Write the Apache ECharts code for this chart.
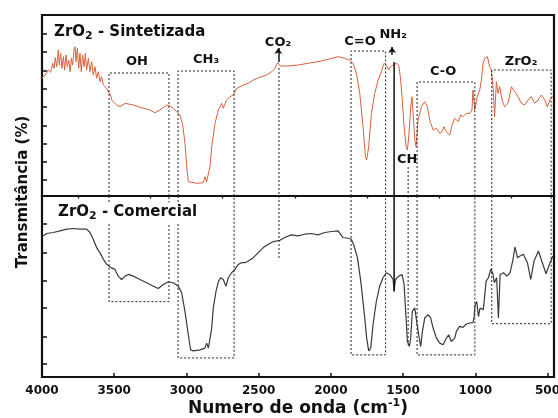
<!DOCTYPE html>
<html>
<head>
<meta charset="utf-8">
<script src="https://cdn.jsdelivr.net/npm/echarts@6/dist/echarts.min.js"></script>
<style>
  html, body { margin: 0; padding: 0; background: #fff; }
  #chart { width: 558px; height: 418px; }
</style>
</head>
<body>
<div id="chart"></div>
<script>
// FTIR spectra: [wavenumber (cm-1), transmittance (a.u.)]
const sintetizada = [
  [4002,117.7],[3979,121],[3956,126],[3940,123.7],[3926,132.7],[3917,127.7],[3908,138.3],[3898,129.3],
  [3887,146],[3880,131],[3871,142.7],[3862,127.7],[3852,139.3],[3843,126],[3834,141],[3825,129.3],
  [3815,136],[3806,124.3],[3797,137.7],[3788,131],[3778,146],[3771,149.3],[3765,134.3],[3755,147.7],
  [3746,127.7],[3737,142.7],[3728,124.3],[3719,141],[3709,129.3],[3700,142.7],[3691,126],[3679,137.7],
  [3668,124.3],[3656,134.3],[3645,121],[3633,129.3],[3622,117.7],[3610,124.3],[3598,114.3],[3587,119.3],
  [3575,111],[3564,112.7],[3552,107.7],[3541,104.3],[3525,101],[3518,96],[3483,91],[3460,89.3],
  [3425,92.7],[3368,91],[3298,87.7],[3252,86],[3218,83.3],[3183,86],[3137,91],[3114,90],[3091,87.7],
  [3068,84.3],[3045,81],[3026,71],[3010,52.7],[2998,29.3],[2987,14.3],[2975,12.7],[2929,12.7],
  [2883,13.3],[2872,19.3],[2860,14.3],[2848,16],[2837,29.3],[2825,49.3],[2802,72.7],[2779,86],
  [2756,92.7],[2745,87.7],[2733,86],[2722,96],[2698,99.3],[2675,101],[2652,107.7],[2629,109.3],
  [2606,111],[2572,112.7],[2537,116],[2491,118.7],[2445,121],[2410,124.3],[2387,127.7],[2375,129],
  [2368,133.5],[2360,132],[2350,130],[2296,130],[2227,131],[2158,132.7],[2089,134.3],[2019,136.7],
  [1950,139.3],[1904,137.7],[1870,136],[1846,132.7],[1823,122.7],[1800,102.7],[1777,69.3],[1761,39.3],
  [1752,36],[1738,49.3],[1719,82.7],[1696,102.7],[1673,116],[1650,124.3],[1632,132.7],[1616,131],
  [1600,126],[1586,129.3],[1569,131],[1546,132.7],[1530,131],[1519,119.3],[1507,99.3],[1493,69.3],
  [1479,49.3],[1470,46],[1459,62.7],[1447,89.3],[1438,99.3],[1429,79.3],[1419,56],[1410,49.3],
  [1396,76],[1373,89.3],[1350,94.3],[1332,89.3],[1316,76],[1292,66],[1269,67.7],[1246,62.7],
  [1230,64.3],[1216,69.3],[1200,64.3],[1177,60.7],[1161,71],[1142,77.7],[1119,74.3],[1101,81],
  [1085,79.3],[1062,82.7],[1039,82.7],[1023,86],[1016,106],[1004,86],[986,99.3],[969,106],[958,116],
  [946,132.7],[935,137.7],[916,139.3],[900,129.3],[889,126],[877,109.3],[866,79.3],[854,114.3],
  [843,102.7],[831,109.3],[815,96],[797,89.3],[773,92.7],[750,109.3],[727,104.3],[704,99.3],
  [681,92.7],[658,91],[635,96],[612,99.3],[589,92.7],[566,96],[542,101],[519,96],[501,89.3],
  [478,97.7],[462,99.3]
];

const comercial = [
  [3991,140.3],[3968,142.7],[3922,143.7],[3875,145.3],[3829,147],[3783,147.7],[3737,147],[3691,147],
  [3668,143.7],[3645,137],[3622,128.7],[3599,123.7],[3575,117],[3552,112],[3529,109.3],[3495,107],
  [3472,100.3],[3449,97],[3425,100.3],[3402,102],[3368,100.3],[3322,97],[3275,93.7],[3229,90.3],
  [3195,88],[3160,92],[3125,94.7],[3091,93.7],[3056,90.3],[3033,83.7],[3010,65.3],[2987,42],
  [2971,27],[2952,26],[2906,27],[2872,28.7],[2860,33.7],[2848,28.7],[2837,30.3],[2825,48.7],
  [2814,68.7],[2795,85.3],[2779,94.7],[2763,98.7],[2745,97],[2726,90.3],[2710,98.7],[2687,103.7],
  [2664,107],[2641,112],[2618,113.7],[2595,113.7],[2572,115.3],[2537,118.7],[2502,123.7],[2468,128.7],
  [2433,132],[2398,134.7],[2352,136],[2320,138.7],[2273,141.3],[2227,140.3],[2181,142],[2135,142.7],
  [2089,141.3],[2042,143.7],[1996,144.7],[1950,145.3],[1916,138.7],[1881,138],[1858,137],[1839,130.3],
  [1816,118.7],[1793,95.3],[1770,65.3],[1752,38.7],[1738,26],[1724,28.7],[1708,52],[1685,75.3],
  [1662,90.3],[1639,98.7],[1616,103.7],[1593,102],[1569,97],[1562,85.3],[1553,97],[1530,100.3],
  [1507,102],[1493,92],[1482,65.3],[1470,35.3],[1456,30.3],[1447,38.7],[1436,65.3],[1419,68.7],
  [1406,55.3],[1392,42],[1378,30.3],[1366,45.3],[1350,58.7],[1327,62],[1309,58.7],[1292,48.7],
  [1269,38.7],[1246,33.7],[1223,32],[1200,38.7],[1184,42],[1166,35.3],[1142,38.7],[1131,45.3],
  [1108,50.3],[1085,49.3],[1062,52.7],[1039,53.7],[1016,54],[1008,60],[1001,72],[990,75],
  [978,60],[967,68.7],[944,67],[925,95.3],[909,98.7],[893,107],[879,103.7],[868,93.7],[852,98.7],
  [840,58.7],[828,102],[805,103.7],[782,100.3],[759,103.7],[740,116],[725,129.3],[708,118.7],
  [690,120.3],[667,122],[639,113.7],[616,97],[593,115.3],[563,125.3],[540,115.3],[510,102.7],
  [482,113.7],[463,120.3]
];

// axis ticks
const xTicksMajor = [4000, 3500, 3000, 2500, 2000, 1500, 1000, 500];
const xTicksMinor = [3750, 3250, 2750, 2250, 1750, 1250, 750];
const yTicksTop = [16, 34, 52, 70, 89, 107, 125, 144, 162];
const yTicksBottom = [13, 40.5, 68.5, 96, 124, 152];

// band regions: [wn start, wn end, top edge (upper panel), bottom edge (lower panel)]
const bandBoxes = [
  [3536, 3121, 123, 75],
  [3058, 2670, 125, 19],
  [1860, 1621, 145, 22],
  [1403, 1003, 114, 22],
  [886, 475, 126, 53]
];
// single dashed band markers: [wn, start (upper panel), end (lower panel)]
const bandLines = [[2359, 128, 117], [1465, 29, 32]];
// solid NH2 marker: [wn, start (upper panel), end (lower panel)]
const nh2Line = [1562, 134, 85];
// arrows: [wn, tail, head] in upper panel
const bandArrows = [[2364, 134, 148], [1576, 141, 149]];

// band labels
const bandNames = ['OH', 'CH₃', 'CO₂', 'C=O', 'NH₂', 'C-O', 'ZrO₂', 'CH'];
const bandNameWn = [3342, 2864, 2366, 1798, 1569, 1223, 683, 1472];
const bandNameT = [134, 136, 153, 154, 161, 124, 134, 36];

const X_MIN = 455, X_MAX = 4000;
const TOP_MAX = 181, BOT_MAX = 180;
const FONT = 'DejaVu Sans';
const INK = '#111';

const chart = echarts.init(document.getElementById('chart'), null, { renderer: 'canvas' });

const dashStyle = { color: '#222', width: 1, type: [2, 2] };
const series = [];

series.push({
  type: 'line', xAxisIndex: 0, yAxisIndex: 0, data: sintetizada,
  symbol: 'none', lineStyle: { color: '#d6633d', width: 1 }, z: 3
});
series.push({
  type: 'line', xAxisIndex: 1, yAxisIndex: 1, data: comercial,
  symbol: 'none', lineStyle: { color: '#3a3a3a', width: 1.2 }, z: 3
});

bandBoxes.forEach(([a, b, t, bt]) => {
  series.push({
    type: 'line', xAxisIndex: 0, yAxisIndex: 0, symbol: 'none', lineStyle: dashStyle,
    data: [[a, 0], [a, t], [b, t], [b, 0]]
  });
  series.push({
    type: 'line', xAxisIndex: 1, yAxisIndex: 1, symbol: 'none', lineStyle: dashStyle,
    data: [[a, BOT_MAX], [a, bt], [b, bt], [b, BOT_MAX]]
  });
});

bandLines.forEach(([w, t, bt]) => {
  series.push({
    type: 'line', xAxisIndex: 0, yAxisIndex: 0, symbol: 'none', lineStyle: dashStyle,
    data: [[w, t], [w, 0]]
  });
  series.push({
    type: 'line', xAxisIndex: 1, yAxisIndex: 1, symbol: 'none', lineStyle: dashStyle,
    data: [[w, BOT_MAX], [w, bt]]
  });
});

series.push({
  type: 'line', xAxisIndex: 0, yAxisIndex: 0, symbol: 'none',
  lineStyle: { color: INK, width: 1.5 }, data: [[nh2Line[0], nh2Line[1]], [nh2Line[0], 0]], z: 4
});
series.push({
  type: 'line', xAxisIndex: 1, yAxisIndex: 1, symbol: 'none',
  lineStyle: { color: INK, width: 1.5 }, data: [[nh2Line[0], BOT_MAX], [nh2Line[0], nh2Line[2]]], z: 4
});

series.push({
  type: 'lines', coordinateSystem: 'cartesian2d', xAxisIndex: 0, yAxisIndex: 0,
  symbol: ['none', 'arrow'], symbolSize: 6,
  lineStyle: { color: INK, width: 1.5, opacity: 1 },
  data: bandArrows.map(([w, a, b]) => ({ coords: [[w, a], [w, b]] })), z: 4
});

series.push({
  type: 'scatter', xAxisIndex: 0, yAxisIndex: 0, symbolSize: 0,
  itemStyle: { color: INK }, z: 5,
  data: bandNames.map((n, i) => ({ name: n, value: [bandNameWn[i], bandNameT[i]] })),
  label: {
    show: true, position: 'inside', formatter: p => p.name, opacity: 1,
    fontFamily: FONT, fontWeight: 'bold', fontSize: 13, color: INK
  }
});

const xBase = { type: 'value', inverse: true, min: X_MIN, max: X_MAX, splitLine: { show: false }, axisLine: { show: false } };

const panelRich = {
  a: { fontFamily: FONT, fontWeight: 'bold', fontSize: 15, color: INK, lineHeight: 20, verticalAlign: 'middle' },
  s: { fontFamily: FONT, fontWeight: 'bold', fontSize: 11, color: INK, lineHeight: 11, verticalAlign: 'bottom' }
};

const gridBase = { left: 42, right: 4, height: 181, show: true, borderColor: INK, borderWidth: 2.2,
  backgroundColor: 'transparent', containLabel: false, outerBoundsMode: 'none' };

chart.setOption({
  animation: false,
  backgroundColor: '#fff',
  grid: [
    Object.assign({}, gridBase, { top: 15 }),
    Object.assign({}, gridBase, { top: 196 })
  ],
  title: [
    { text: '{a|ZrO}{s|2}{a| - Sintetizada}', left: 54, top: 22, padding: 0, textStyle: { rich: panelRich } },
    { text: '{a|ZrO}{s|2}{a| - Comercial}', left: 55, top: 200, padding: [2, 3], backgroundColor: '#fff', textStyle: { rich: panelRich } }
  ],
  xAxis: [
    Object.assign({}, xBase, { gridIndex: 0, axisTick: { show: false }, axisLabel: { show: false } }),
    Object.assign({}, xBase, {
      gridIndex: 1,
      axisTick: { show: true, inside: true, length: 4, lineStyle: { color: INK, width: 1.5 }, customValues: xTicksMajor },
      axisLabel: { show: true, customValues: xTicksMajor, formatter: v => String(v), margin: 8,
        fontFamily: FONT, fontWeight: 'bold', fontSize: 12, color: INK },
      name: '{n|Numero de onda (cm}{u|-1}{n|)}',
      nameLocation: 'middle', nameGap: 18,
      nameTextStyle: {
        rich: {
          n: { fontFamily: FONT, fontWeight: 'bold', fontSize: 17, color: INK, lineHeight: 22, verticalAlign: 'middle' },
          u: { fontFamily: FONT, fontWeight: 'bold', fontSize: 11, color: INK, lineHeight: 11, verticalAlign: 'top' }
        }
      }
    }),
    Object.assign({}, xBase, {
      gridIndex: 1,
      axisTick: { show: true, inside: true, length: 2.5, lineStyle: { color: INK, width: 1.3 }, customValues: xTicksMinor },
      axisLabel: { show: false }
    })
  ],
  yAxis: [
    {
      type: 'value', gridIndex: 0, min: 0, max: TOP_MAX, splitLine: { show: false }, axisLine: { show: false },
      axisTick: { show: true, inside: true, length: 5, lineStyle: { color: INK, width: 1.5 }, customValues: yTicksTop },
      axisLabel: { show: false }
    },
    {
      type: 'value', gridIndex: 1, min: 0, max: BOT_MAX, splitLine: { show: false }, axisLine: { show: false },
      axisTick: { show: true, inside: true, length: 5, lineStyle: { color: INK, width: 1.5 }, customValues: yTicksBottom },
      axisLabel: { show: false }
    }
  ],
  graphic: [
    {
      type: 'text', x: 23, y: 192, rotation: Math.PI / 2, z: 100,
      style: {
        text: 'Transmitância (%)', fill: INK,
        font: 'bold 15px "DejaVu Sans"',
        align: 'center', verticalAlign: 'middle',
        textAlign: 'center', textVerticalAlign: 'middle'
      }
    }
  ],
  series: series
});
</script>
</body>
</html>
